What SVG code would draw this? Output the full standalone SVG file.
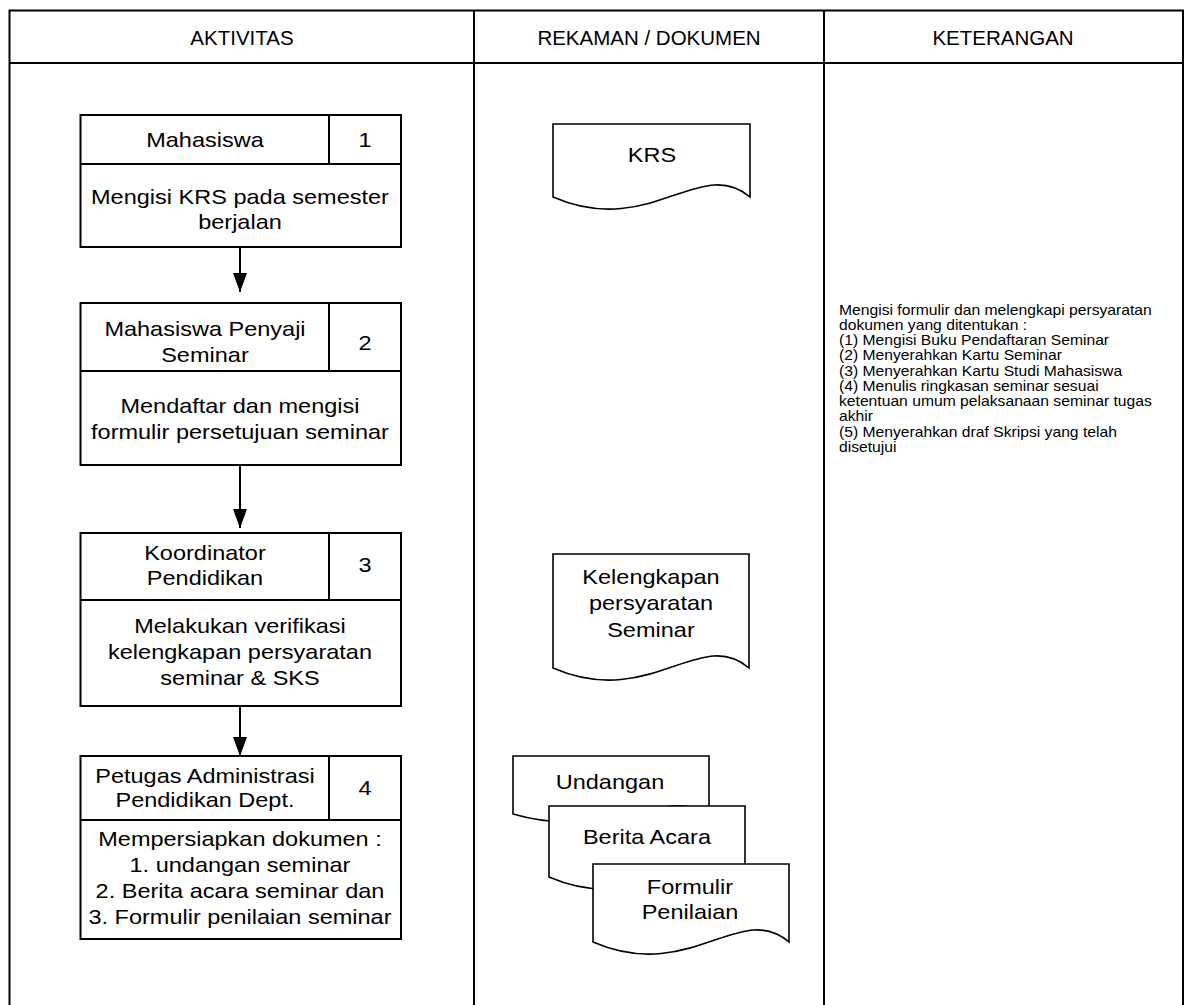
<svg xmlns="http://www.w3.org/2000/svg" width="1187" height="1005" viewBox="0 0 1187 1005">
<style>
.ln{stroke:#000;stroke-width:2;fill:none}
.box{stroke:#000;stroke-width:2;fill:#fff}
.doc{stroke:#000;stroke-width:1.6;fill:#fff}
text{font-family:"Liberation Sans",Arial,sans-serif;fill:#000;text-anchor:middle;dominant-baseline:central}
.hd{font-size:20.5px}
.t{font-size:21px;transform-box:fill-box;transform-origin:center;transform:scaleX(1.12)}
.k{font-size:14px;text-anchor:start;transform-box:fill-box;transform-origin:left center;transform:scaleX(1.12)}
</style>
<defs>
<marker id="ah" viewBox="0 0 19 14" refX="19" refY="7" markerWidth="19" markerHeight="14" markerUnits="userSpaceOnUse" orient="auto">
<path d="M0,0 L19,7 L0,14 Z" fill="#000"/>
</marker>
</defs>
<rect x="0" y="0" width="1187" height="1005" fill="#fff"/>
<g id="frame">
<path class="ln" d="M9.5,1005 V10.5 H1183 V1005"/>
<path class="ln" d="M9.5,63 H1183" stroke-width="2.5"/>
<path class="ln" d="M474,10.5 V1005 M824,10.5 V1005"/>
<text class="hd" x="242" y="37">AKTIVITAS</text>
<text class="hd" x="649" y="37">REKAMAN / DOKUMEN</text>
<text class="hd" x="1003" y="37">KETERANGAN</text>
</g>
<g id="connectors">
<path class="ln" d="M240,247 V292" marker-end="url(#ah)"/>
<path class="ln" d="M240,465 V528" marker-end="url(#ah)"/>
<path class="ln" d="M240,706 V756" marker-end="url(#ah)"/>
</g>
<g id="node1">
<rect class="box" x="80.5" y="115" width="320.5" height="132"/>
<path class="ln" d="M80.5,164 H401 M329,115 V164"/>
<text class="t" x="205" y="140">Mahasiswa</text>
<text class="t" x="365" y="140">1</text>
<text class="t" x="240" y="197">Mengisi KRS pada semester</text>
<text class="t" x="240" y="222">berjalan</text>
</g>
<g id="node2">
<rect class="box" x="80.5" y="303" width="320.5" height="162"/>
<path class="ln" d="M80.5,371 H401 M329,303 V371"/>
<text class="t" x="205" y="329">Mahasiswa Penyaji</text>
<text class="t" x="205" y="355">Seminar</text>
<text class="t" x="365" y="343">2</text>
<text class="t" x="240" y="406">Mendaftar dan mengisi</text>
<text class="t" x="240" y="432">formulir persetujuan seminar</text>
</g>
<g id="node3">
<rect class="box" x="80.5" y="533" width="320.5" height="173"/>
<path class="ln" d="M80.5,600 H401 M329,533 V600"/>
<text class="t" x="205" y="553">Koordinator</text>
<text class="t" x="205" y="578">Pendidikan</text>
<text class="t" x="365" y="565">3</text>
<text class="t" x="240" y="626">Melakukan verifikasi</text>
<text class="t" x="240" y="652">kelengkapan persyaratan</text>
<text class="t" x="240" y="678">seminar &amp; SKS</text>
</g>
<g id="node4">
<rect class="box" x="80.5" y="756" width="320.5" height="183"/>
<path class="ln" d="M80.5,820 H401 M329,756 V820"/>
<text class="t" x="205" y="776">Petugas Administrasi</text>
<text class="t" x="205" y="800">Pendidikan Dept.</text>
<text class="t" x="365" y="788">4</text>
<text class="t" x="240" y="839">Mempersiapkan dokumen :</text>
<text class="t" x="240" y="865">1. undangan seminar</text>
<text class="t" x="240" y="891">2. Berita acara seminar dan</text>
<text class="t" x="240" y="917">3. Formulir penilaian seminar</text>
</g>
<g id="doc-krs">
<path class="doc" d="M553,197 V124 H750 V197 C700,155 650,239 553,197 Z"/>
<text class="t" x="652" y="155">KRS</text>
</g>
<g id="doc-kelengkapan">
<path class="doc" d="M553,668 V554 H749 V668 C700,626 650,710 553,668 Z"/>
<text class="t" x="651" y="577">Kelengkapan</text>
<text class="t" x="651" y="603">persyaratan</text>
<text class="t" x="651" y="630">Seminar</text>
</g>
<g id="doc-undangan">
<path class="doc" d="M513,814 V756 H709 V814 C660,786 610,842 513,814 Z"/>
<text class="t" x="610" y="782">Undangan</text>
</g>
<g id="doc-berita">
<path class="doc" d="M549,877 V806 H745 V877 C696,835 646,919 549,877 Z"/>
<text class="t" x="647" y="837">Berita Acara</text>
</g>
<g id="doc-formulir">
<path class="doc" d="M593,942 V864 H789 V942 C740,900 690,984 593,942 Z"/>
<text class="t" x="690" y="887">Formulir</text>
<text class="t" x="690" y="912">Penilaian</text>
</g>
<g id="keterangan">
<text class="k" x="839" y="310">Mengisi formulir dan melengkapi persyaratan</text>
<text class="k" x="839" y="325">dokumen yang ditentukan :</text>
<text class="k" x="839" y="340">(1) Mengisi Buku Pendaftaran Seminar</text>
<text class="k" x="839" y="355">(2) Menyerahkan Kartu Seminar</text>
<text class="k" x="839" y="371">(3) Menyerahkan Kartu Studi Mahasiswa</text>
<text class="k" x="839" y="386">(4) Menulis ringkasan seminar sesuai</text>
<text class="k" x="839" y="401">ketentuan umum pelaksanaan seminar tugas</text>
<text class="k" x="839" y="416">akhir</text>
<text class="k" x="839" y="432">(5) Menyerahkan draf Skripsi yang telah</text>
<text class="k" x="839" y="447">disetujui</text>
</g>
</svg>
